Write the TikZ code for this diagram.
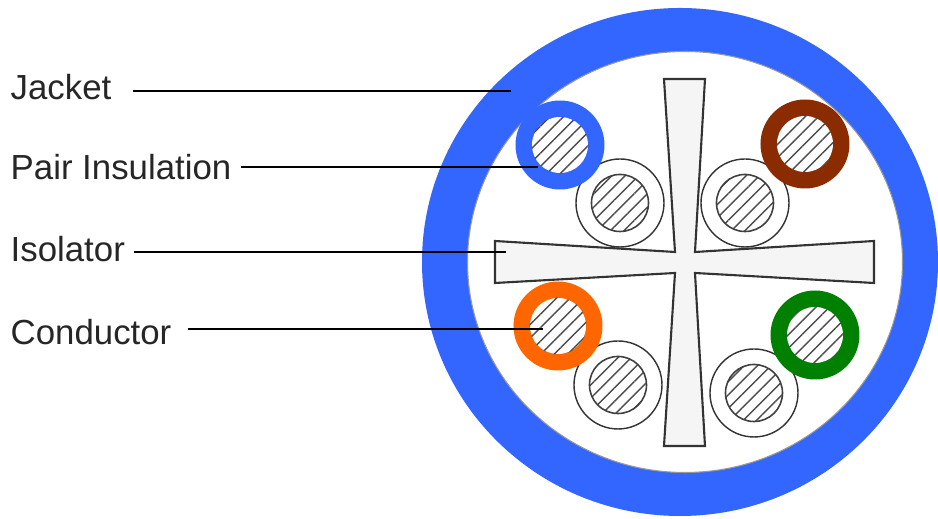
\documentclass[tikz,border=0pt]{standalone}
\usepackage{fontspec}
\setmainfont{Liberation Sans}
\usetikzlibrary{patterns.meta}
\definecolor{jacketblue}{HTML}{3366FF}
\definecolor{pairbrown}{HTML}{8B2C00}
\definecolor{pairorange}{HTML}{FF6600}
\definecolor{pairgreen}{HTML}{008000}
\definecolor{isolatorgray}{HTML}{F5F5F5}
\tikzset{
  textlabel/.style={anchor=west, inner sep=0pt, font=\fontsize{9.9}{12}\selectfont, text=black!85},
  leader/.style={line width=0.5pt, black},
  conductor/.style={circle, minimum size=5.7mm, inner sep=0pt,
    pattern={Lines[angle=45, distance=2.7pt, line width=0.4pt]}, pattern color=black!70},
}

\begin{document}
\begin{tikzpicture}[x=0.01cm, y=-0.01cm]
  \useasboundingbox (0,0) rectangle (938,519);
  % jacket
  \fill[jacketblue] (680,262) ellipse [x radius=258, y radius=254];
  \fill[white, draw=black!40, line width=0.3pt] (685,262) ellipse [x radius=217.5, y radius=210.5];
  % isolator
  \draw[fill=isolatorgray, draw=black!80, line width=0.6pt, line join=miter]
    (664,79) -- (705,79) -- (695,252) -- (874,241) -- (874,283) -- (695,273)
    -- (705,446) -- (664,446) -- (675,273) -- (495,283) -- (495,241) -- (675,252) -- cycle;
  % bare pairs
  \foreach \name/\px/\py in {pairA/620/203, pairB/745/203, pairC/618/385, pairD/754/393} {
    \draw[black!80, line width=0.4pt, fill=white] (\px,\py) circle [radius=44];
    \node[conductor, draw=black!75, line width=0.45pt] (\name) at (\px,\py) {};
  }
  % coloured pairs
  \foreach \name/\px/\py/\col in {pairblue/560/145/jacketblue, pairbrn/805/144/pairbrown,
      pairorg/558/326/pairorange, pairgrn/815/335/pairgreen} {
    \fill[\col] (\px,\py) circle [radius=44.5];
    \fill[white] (\px,\py) circle [radius=28];
    \node[conductor] (\name) at (\px,\py) {};
  }
  % labels
  \node[textlabel] (jacket) at (10,87) {Jacket};
  \node[textlabel] (insulation) at (10,167) {Pair Insulation};
  \node[textlabel] (isolator) at (10,249) {Isolator};
  \node[textlabel] (conductorlabel) at (10,332) {Conductor};
  \coordinate (jacketend) at (511,91);
  \coordinate (insulationend) at (538,167);
  \coordinate (isolatorend) at (506,252);
  \coordinate (conductorend) at (543,329);
  \draw[leader] ([xshift=6pt]jacket.east |- jacketend) -- (jacketend);
  \draw[leader] ([xshift=2.6pt]insulation.east |- insulationend) -- (insulationend);
  \draw[leader] ([xshift=2.4pt]isolator.east |- isolatorend) -- (isolatorend);
  \draw[leader] ([xshift=4.5pt]conductorlabel.east |- conductorend) -- (conductorend);
\end{tikzpicture}
\end{document}
